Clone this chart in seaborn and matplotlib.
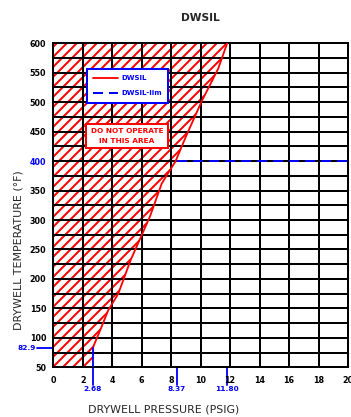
import matplotlib
matplotlib.use('Agg')
import matplotlib.pyplot as plt
import matplotlib.transforms as mtransforms
from matplotlib.ticker import MultipleLocator
import seaborn as sns

# limit curve (pressure psig vs drywell temperature F)
curve_temp = [82.9, 119, 147, 175, 232, 249, 306, 362, 400, 444, 501, 557, 600]
curve_press = [2.68, 3.28, 3.73, 4.41, 5.25, 5.55, 6.56, 7.36, 8.30, 9.04, 10.06, 11.19, 11.80]

# hatched "do not operate" area goes straight down to the x limit below 82.9 F
fill_temp = [50] + curve_temp
fill_press = [2.68] + curve_press

# horizontal limit line
lim_press = [8.37, 20]
lim_temp = [400, 400]

# blue callouts on the axes
mark_press = [2.68, 8.37, 11.80]
mark_press_labels = ['2.68', '8.37', '11.80']
mark_temp = 82.9
mark_temp_label = '82.9'

x_ticks = list(range(0, 21, 2))
y_ticks = list(range(50, 601, 50))

sns.set_theme(style='white')
plt.rcParams['font.family'] = ['DejaVu Sans']
plt.rcParams['hatch.linewidth'] = 1.2

DPI = 120
fig = plt.figure(figsize=(351 / DPI, 417 / DPI), dpi=DPI)
ax = fig.add_axes([53.3 / 351, 1 - 367.3 / 417, 294.7 / 351, 324 / 417])

# hatched region (grid is drawn over it)
ax.fill_betweenx(fill_temp, 0, fill_press, facecolor='none', edgecolor='red',
                 hatch='////', linewidth=0, zorder=2)

sns.lineplot(x=curve_press, y=curve_temp, sort=False, color='red', lw=1.1,
             label='DWSIL', ax=ax, zorder=3)
sns.lineplot(x=lim_press, y=lim_temp, sort=False, color='blue', lw=1.2,
             linestyle=(0, (5, 3)), label='DWSIL-lim', ax=ax, zorder=3)

ax.set_xlim(0, 20)
ax.set_ylim(50, 600)
ax.set_xticks(x_ticks, labels=[str(t) for t in x_ticks])
ax.set_yticks(y_ticks, labels=[str(t) for t in y_ticks])
ax.yaxis.set_minor_locator(MultipleLocator(25))
ax.grid(which='both', color='black', lw=1.2)
ax.set_axisbelow(False)
ax.tick_params(which='both', length=0, labelsize=4.8, colors='black')
ax.tick_params(axis='y', pad=4.2)
ax.tick_params(axis='x', pad=5.2)
for lab in ax.get_xticklabels() + ax.get_yticklabels():
    lab.set_fontweight('bold')
for lab in ax.get_yticklabels():
    if lab.get_text() == '400':
        lab.set_color('blue')
for sp in ax.spines.values():
    sp.set_color('black')
    sp.set_linewidth(1.2)

# blue callouts
trans_x = mtransforms.blended_transform_factory(ax.transData, ax.transAxes)
trans_y = mtransforms.blended_transform_factory(ax.transAxes, ax.transData)
for v, lab in zip(mark_press, mark_press_labels):
    ax.plot([v, v], [0, -0.055], transform=trans_x, color='blue', lw=1.1, clip_on=False)
    ax.text(v, -0.066, lab, transform=trans_x, ha='center', va='center',
            color='blue', fontsize=4.4, fontweight='bold')
ax.plot([mark_press[0], mark_press[0]], [50, mark_temp], color='blue', lw=1.1, zorder=3)
ax.plot([-0.055, 0], [mark_temp, mark_temp], transform=trans_y, color='blue', lw=1.1, clip_on=False)
ax.text(-0.058, mark_temp, mark_temp_label, transform=trans_y, ha='right', va='center',
        color='blue', fontsize=4.4, fontweight='bold')

# legend
leg = ax.legend(loc='upper left', bbox_to_anchor=(0.114, 0.921), borderaxespad=0,
                fontsize=4.2, handlelength=3.6, handletextpad=0.4, labelspacing=1.3,
                borderpad=0.9, fancybox=False, framealpha=1, edgecolor='blue')
leg.get_frame().set_linewidth(1.2)
leg.set_zorder(5)
for t in leg.get_texts():
    t.set_color('blue')
    t.set_fontweight('bold')

ax.text(5.0, 443, 'DO NOT OPERATE\nIN THIS AREA', ha='center', va='center', color='red',
        fontsize=4.4, fontweight='bold', linespacing=1.7, zorder=5,
        bbox=dict(boxstyle='square,pad=0.6', fc='white', ec='red', lw=1.2))

# titles and axis labels
fig.text(200 / 351, 1 - 17.7 / 417, 'DWSIL', ha='center', va='center',
         fontsize=6.4, fontweight='bold')
ax.set_xlabel('DRYWELL PRESSURE (PSIG)', fontsize=6.6, va='center')
ax.xaxis.set_label_coords((164 - 53.3) / 294.7, (367.3 - 409) / 324)
ax.set_ylabel('DRYWELL TEMPERATURE (\u00b0F)', fontsize=6.6, va='center')
ax.yaxis.set_label_coords((19 - 53.3) / 294.7, (367.3 - 250) / 324)

fig.savefig('out.png', dpi=DPI)
